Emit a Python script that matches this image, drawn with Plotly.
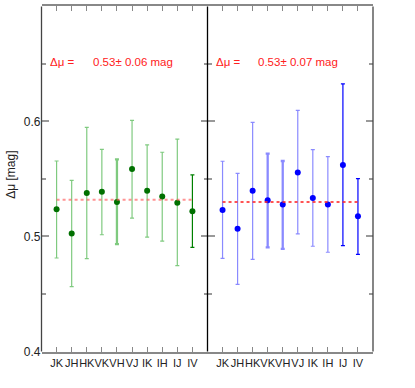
import plotly.graph_objects as go

# ---- data ----
colors_names = ["JK", "JH", "HK", "VK", "VH", "VJ", "IK", "IH", "IJ", "IV"]
positions = list(range(1, len(colors_names) + 1))

left_mu = [0.5236, 0.5026, 0.5379, 0.5388, 0.5300, 0.5586, 0.5397, 0.5347, 0.5293, 0.5219]
left_hi = [0.5656, 0.5487, 0.5948, 0.5758, 0.5670, 0.6010, 0.5796, 0.5732, 0.5846, 0.5536]
left_lo = [0.4813, 0.4565, 0.4808, 0.5015, 0.4933, 0.5160, 0.4994, 0.4959, 0.4746, 0.4906]
left_mean = 0.532

right_mu = [0.5230, 0.5067, 0.5397, 0.5315, 0.5277, 0.5557, 0.5335, 0.5277, 0.5621, 0.5175]
right_hi = [0.5654, 0.5549, 0.5991, 0.5720, 0.5656, 0.6096, 0.5755, 0.5694, 0.6327, 0.5503]
right_lo = [0.4810, 0.4583, 0.4801, 0.4906, 0.4892, 0.5023, 0.4915, 0.4863, 0.4921, 0.4845]
right_mean = 0.530

left_text = ("Δμ =", "0.53± 0.06 mag")
right_text = ("Δμ =", "0.53± 0.07 mag")

y_ticks = [0.4, 0.5, 0.6]
y_range = [0.4, 0.7]
x_range = [0, 11]

# ---- styles ----
left_dark = {9}
left_thick = {4}
right_dark = {8, 9}
right_thick = {3, 4}

FONT = "Liberation Sans, Arial, sans-serif"
W, H = 415, 388

fig = go.Figure()


def add_panel(xa, ya, mu, hi, lo, mean, light, dark, point, dark_set, thick_set, mean_col):
    for i, (x, m, h, l) in enumerate(zip(positions, mu, hi, lo)):
        col = dark if i in dark_set else light
        fig.add_trace(go.Scatter(
            x=[x], y=[m], mode="markers", xaxis=xa, yaxis=ya,
            marker=dict(color=point, size=6),
            error_y=dict(type="data", symmetric=False, array=[h - m], arrayminus=[m - l],
                         color=col, thickness=2.3 if i in thick_set else 1.2, width=2),
            showlegend=False, hoverinfo="skip"))
    fig.add_trace(go.Scatter(
        x=[positions[0], positions[-1]], y=[mean, mean], mode="lines", xaxis=xa, yaxis=ya,
        line=dict(color=mean_col, width=2, dash="dot"),
        showlegend=False, hoverinfo="skip"))


add_panel("x", "y", left_mu, left_hi, left_lo, left_mean,
          "rgba(0,150,0,0.5)", "#008000", "#007000", left_dark, left_thick,
          "rgba(255,90,90,0.65)")
add_panel("x2", "y2", right_mu, right_hi, right_lo, right_mean,
          "rgba(60,60,255,0.6)", "#0000ff", "#0000ff", right_dark, right_thick,
          "rgba(255,40,40,0.8)")

xl, xm, xr = 41.5 / W, 207.5 / W, 373.0 / W
yb, yt = 1 - 358.0 / H, 1 - 6.5 / H

common_x = dict(range=x_range, tickvals=positions, ticktext=colors_names, tickangle=0,
                ticks="inside", ticklen=5, tickwidth=1.3, tickcolor="#888",
                showline=True, linecolor="#888", linewidth=2, mirror="ticks",
                showgrid=False, zeroline=False, fixedrange=True,
                tickfont=dict(family=FONT, size=11, color="#222"))
common_y = dict(range=y_range, tickvals=y_ticks, ticks="inside", ticklen=7, tickwidth=2,
                tickcolor="#999", showline=False,
                mirror="allticks", showgrid=False, zeroline=False, fixedrange=True,
                minor=dict(dtick=0.05, ticks="inside", ticklen=4, tickcolor="#999", tickwidth=1.5),
                tickfont=dict(family=FONT, size=12, color="#222"))

fig.update_layout(
    width=W, height=H, margin=dict(l=0, r=0, t=0, b=0),
    paper_bgcolor="white", plot_bgcolor="white",
    xaxis=dict(domain=[xl, xm], anchor="y", **common_x),
    xaxis2=dict(domain=[xm, xr], anchor="y2", **common_x),
    yaxis=dict(domain=[yb, yt], anchor="x", **common_y),
    yaxis2=dict(domain=[yb, yt], anchor="x2", showticklabels=False, **common_y),
)

# vertical frame lines: left edge, separator between panels, right edge
for xpos, col in ((xl, "#444"), (xm, "black"), (xr, "#444")):
    fig.add_shape(type="line", xref="paper", yref="paper", x0=xpos, x1=xpos, y0=yb, y1=yt,
                  line=dict(color=col, width=1.3))

ann_font = dict(family=FONT, size=11.5, color="#ff2020")
for xa, ya, txt in (("x", "y", left_text), ("x2", "y2", right_text)):
    fig.add_annotation(x=0.45, y=0.652, xref=xa, yref=ya, text=txt[0], showarrow=False,
                       xanchor="left", yanchor="middle", font=ann_font)
    fig.add_annotation(x=3.25, y=0.652, xref=xa, yref=ya, text=txt[1], showarrow=False,
                       xanchor="left", yanchor="middle", font=ann_font)

fig.add_annotation(x=11 / W, y=1 - 178 / H, xref="paper", yref="paper", text="Δμ [mag]",
                   textangle=-90, showarrow=False, xanchor="center", yanchor="middle",
                   font=dict(family=FONT, size=12, color="#222"))

fig.write_html("out.html", config={"displayModeBar": False},
               post_script="document.body.style.margin='0';")
